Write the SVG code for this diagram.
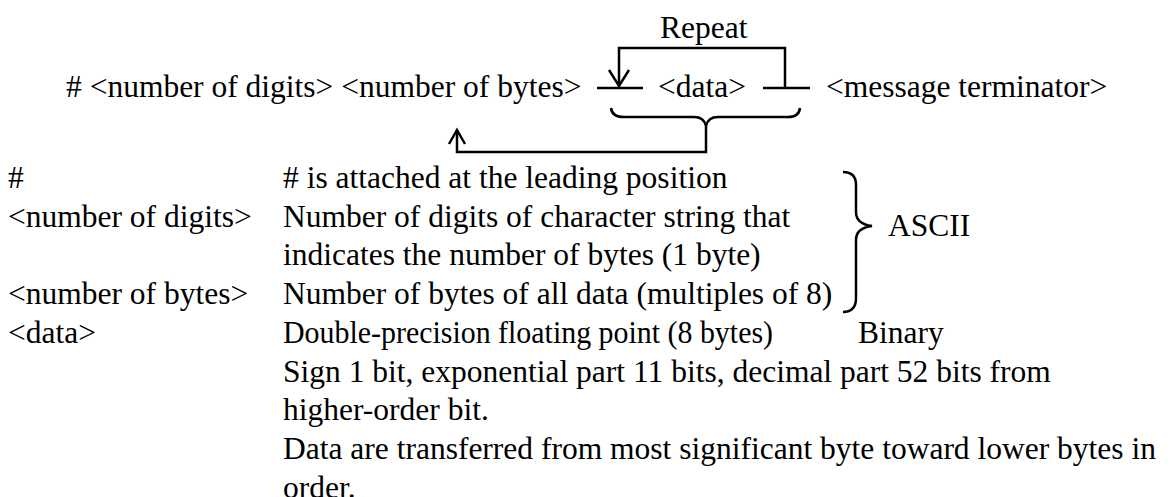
<svg xmlns="http://www.w3.org/2000/svg" width="1172" height="497" viewBox="0 0 1172 497">
<style>
text{font-family:"Liberation Serif","Times New Roman",serif;font-size:31.5px;fill:#000}
.ln{fill:none;stroke:#000;stroke-width:2.5}
</style>
<rect width="1172" height="497" fill="#fff"/>
<g id="header">
<text x="66" y="97"># &lt;number of digits&gt; &lt;number of bytes&gt;</text>
</g>
<g id="data-node"><text x="658" y="97">&lt;data&gt;</text></g>
<g id="terminator"><text x="826" y="97">&lt;message terminator&gt;</text></g>
<g id="repeat-label"><text x="660" y="38">Repeat</text></g>
<g id="connectors">
<path class="ln" d="M597,88 H643"/>
<path class="ln" d="M763,88 H810"/>
<path class="ln" d="M785,88 V48 H619 V86"/>
<path class="ln" d="M609,70 L619,86 L629,70"/>
<path class="ln" d="M611,108 Q612,117 624,117 H694 Q704,117 706,126 Q708,117 718,117 H788 Q799,117 800,108"/>
<path class="ln" d="M706,126 V152 H457 V130"/>
<path class="ln" d="M449,144 L457,130 L465,144"/>
</g>
<g id="legend">
<text x="8" y="188">#</text>
<text x="283" y="188"># is attached at the leading position</text>
<text x="8" y="227">&lt;number of digits&gt;</text>
<text x="283" y="227">Number of digits of character string that</text>
<text x="283" y="265">indicates the number of bytes (1 byte)</text>
<text x="8" y="304">&lt;number of bytes&gt;</text>
<text x="283" y="304">Number of bytes of all data (multiples of 8)</text>
<path class="ln" d="M843,172 Q856,172 856,185 V212 Q856,224 872,226 Q856,228 856,240 V298 Q856,312 843,312"/>
<text x="888" y="236">ASCII</text>
<text x="8" y="343">&lt;data&gt;</text>
<text x="283" y="343" textLength="490" lengthAdjust="spacingAndGlyphs">Double-precision floating point (8 bytes)</text>
<text x="858" y="343">Binary</text>
<text x="283" y="382">Sign 1 bit, exponential part 11 bits, decimal part 52 bits from</text>
<text x="283" y="420">higher-order bit.</text>
<text x="283" y="459">Data are transferred from most significant byte toward lower bytes in</text>
<text x="283" y="498">order.</text>
</g>
</svg>
